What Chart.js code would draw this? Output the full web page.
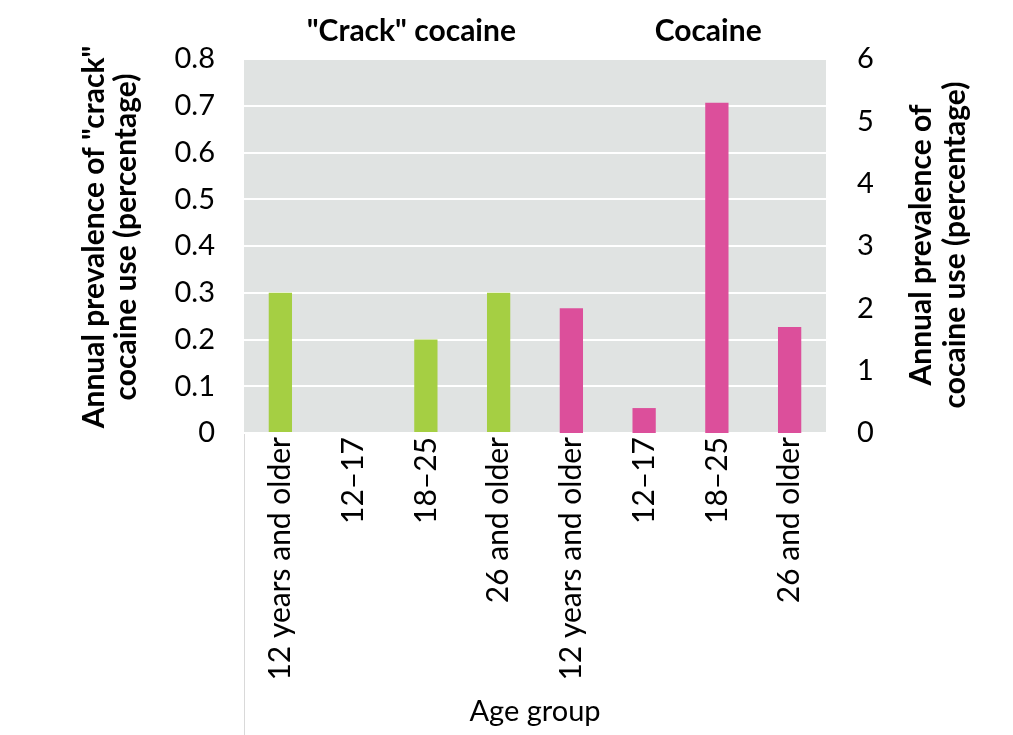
<!DOCTYPE html>
<html><head><meta charset="utf-8">
<script src="https://cdn.jsdelivr.net/npm/chart.js@4/dist/chart.umd.min.js"></script>
<style>html,body{margin:0;padding:0;background:#fff;}#wrap{width:1013px;height:735px;}</style>
</head><body><div id="wrap"><canvas id="c" width="1013" height="735"></canvas></div>
<script>
const categories = ['12 years and older','12–17','18–25','26 and older','12 years and older','12–17','18–25','26 and older'];
const crackValues = [0.3, 0, 0.2, 0.3, null, null, null, null];
const cocaineValues = [null, null, null, null, 2.0, 0.4, 5.3, 1.7];
const leftTickLabels = ['0','0.1','0.2','0.3','0.4','0.5','0.6','0.7','0.8'];
const rightTickLabels = ['0','1','2','3','4','5','6'];
const groupTitles = ['"Crack" cocaine', 'Cocaine'];
const leftTitle = ['Annual prevalence of "crack"', 'cocaine use (percentage)'];
const rightTitle = ['Annual prevalence of', 'cocaine use (percentage)'];
const xTitle = 'Age group';

const FONT = 'Lato, "Open Sans", sans-serif';

const decor = {
  id: 'decor',
  beforeDraw(chart) {
    const {ctx, chartArea: a} = chart;
    ctx.save();
    ctx.fillStyle = '#e0e3e2';
    ctx.fillRect(a.left, a.top, a.right - a.left, a.bottom - a.top);
    ctx.strokeStyle = '#d9d9d9';
    ctx.lineWidth = 1;
    ctx.beginPath();
    ctx.moveTo(a.left + 0.5, a.bottom);
    ctx.lineTo(a.left + 0.5, chart.height);
    ctx.stroke();
    ctx.restore();
  },
  afterDraw(chart) {
    const {ctx, chartArea: a} = chart;
    const xs = chart.scales.x;
    ctx.save();
    ctx.fillStyle = '#000';
    ctx.textAlign = 'center';
    ctx.textBaseline = 'middle';
    ctx.font = 'bold 30px ' + FONT;
    ctx.fillText(groupTitles[0], xs.getPixelForValue(1.8), 31);
    ctx.fillText(groupTitles[1], xs.getPixelForValue(5.88), 31);
    ctx.font = '29px ' + FONT;
    ctx.fillText(xTitle, (a.left + a.right) / 2, 712);
    ctx.font = 'bold 30px ' + FONT;
    ctx.save();
    ctx.translate(110, 237);
    ctx.rotate(-Math.PI / 2);
    ctx.fillText(leftTitle[0], 0, -16);
    ctx.fillText(leftTitle[1], 0, 16);
    ctx.restore();
    ctx.save();
    ctx.translate(938, 245);
    ctx.rotate(-Math.PI / 2);
    ctx.fillText(rightTitle[0], 0, -17);
    ctx.fillText(rightTitle[1], 0, 17);
    ctx.restore();
    ctx.restore();
  }
};

new Chart(document.getElementById('c'), {
  type: 'bar',
  data: {
    labels: categories,
    datasets: [
      {label: '"Crack" cocaine', data: crackValues, backgroundColor: '#a5cf43', yAxisID: 'y', grouped: false,
       categoryPercentage: 1, barPercentage: 0.32},
      {label: 'Cocaine', data: cocaineValues, backgroundColor: '#dc4f9b', yAxisID: 'y1', grouped: false,
       categoryPercentage: 1, barPercentage: 0.32}
    ]
  },
  options: {
    responsive: false,
    animation: false,
    layout: {padding: {top: 59, bottom: 0, left: 0, right: 0}},
    plugins: {legend: {display: false}, tooltip: {enabled: false}},
    scales: {
      x: {
        grid: {display: false, drawTicks: false},
        border: {display: false},
        ticks: {color: '#000', font: {family: FONT, size: 30}, maxRotation: 90, minRotation: 90, padding: 4, autoSkip: false},
        afterFit(s) { s.height = 302; }
      },
      y: {
        position: 'left', min: 0, max: 0.8,
        grid: {color: '#ffffff', lineWidth: 2, drawTicks: false},
        border: {display: false},
        ticks: {stepSize: 0.1, color: '#000', font: {family: FONT, size: 29}, padding: 29,
                callback: (v, i) => leftTickLabels[i]},
        afterFit(s) { s.width = 244; }
      },
      y1: {
        position: 'right', min: 0, max: 6,
        grid: {display: false, drawTicks: false},
        border: {display: false},
        ticks: {stepSize: 1, color: '#000', font: {family: FONT, size: 29}, padding: 31,
                callback: (v, i) => rightTickLabels[i]},
        afterFit(s) { s.width = 187; }
      }
    }
  },
  plugins: [decor]
});
</script></body></html>
